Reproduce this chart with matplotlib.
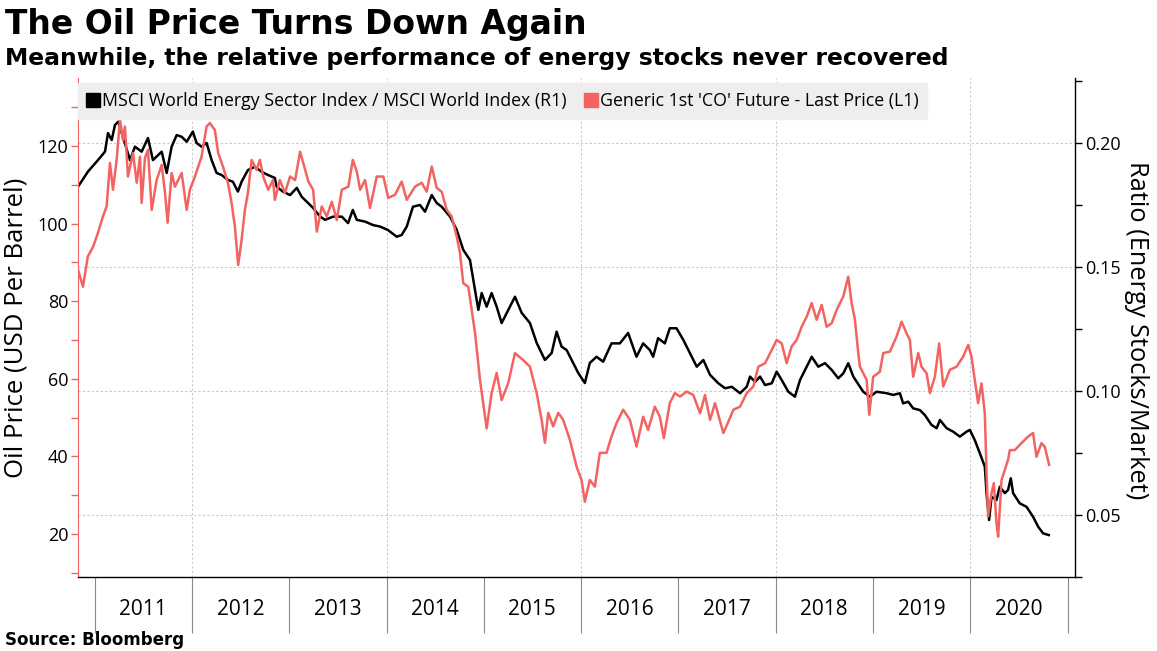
import matplotlib
matplotlib.use("Agg")
import matplotlib.pyplot as plt
import pandas as pd
from matplotlib.lines import Line2D
from matplotlib.ticker import MultipleLocator, FixedLocator, NullFormatter

# ---------------- data (decimal years) ----------------
ratio_t = [
    2010.83, 2010.93, 2011.035, 2011.107, 2011.138, 2011.176, 2011.21, 2011.244, 2011.364, 2011.415,
    2011.484, 2011.549, 2011.60, 2011.69, 2011.741, 2011.792, 2011.844, 2011.895, 2011.947, 2012.011,
    2012.049, 2012.10, 2012.152, 2012.204, 2012.255, 2012.306, 2012.371, 2012.422, 2012.474, 2012.512,
    2012.577, 2012.649, 2012.717, 2012.782, 2012.854, 2012.872, 2012.936, 2013.008, 2013.077, 2013.128,
    2013.193, 2013.245, 2013.317, 2013.368, 2013.45, 2013.54, 2013.604, 2013.653, 2013.694, 2013.779,
    2013.861, 2013.933, 2014.015, 2014.105, 2014.156, 2014.208, 2014.272, 2014.344, 2014.396, 2014.465,
    2014.516, 2014.567, 2014.653, 2014.722, 2014.789, 2014.858, 2014.892, 2014.944, 2014.978, 2015.03,
    2015.081, 2015.133, 2015.184, 2015.252, 2015.321, 2015.39, 2015.475, 2015.544, 2015.629, 2015.698,
    2015.749, 2015.80, 2015.852, 2015.92, 2015.971, 2016.04, 2016.091, 2016.16, 2016.228, 2016.314,
    2016.40, 2016.485, 2016.571, 2016.639, 2016.708, 2016.742, 2016.793, 2016.862, 2016.913, 2016.982,
    2017.05, 2017.119, 2017.188, 2017.256, 2017.325, 2017.41, 2017.479, 2017.548, 2017.633, 2017.702,
    2017.736, 2017.787, 2017.839, 2017.89, 2017.959, 2018.01, 2018.062, 2018.13, 2018.198, 2018.25,
    2018.319, 2018.37, 2018.438, 2018.507, 2018.576, 2018.643, 2018.695, 2018.746, 2018.798, 2018.866,
    2018.90, 2018.969, 2019.038, 2019.141, 2019.209, 2019.277, 2019.311, 2019.363, 2019.414, 2019.483,
    2019.534, 2019.603, 2019.655, 2019.689, 2019.758, 2019.825, 2019.894, 2019.963, 2019.997, 2020.048,
    2020.10, 2020.151, 2020.169, 2020.195, 2020.22, 2020.271, 2020.305, 2020.357, 2020.39, 2020.418,
    2020.442, 2020.51, 2020.58, 2020.647, 2020.699, 2020.75, 2020.809,
]
ratio_v = [
    0.1824, 0.1884, 0.1931, 0.1965, 0.2040, 0.2012, 0.2073, 0.2086, 0.1931, 0.1985,
    0.1965, 0.2020, 0.1931, 0.1965, 0.1879, 0.1985, 0.2032, 0.2025, 0.2005, 0.2046,
    0.2000, 0.1985, 0.2000, 0.1931, 0.1879, 0.1871, 0.1851, 0.1844, 0.1804, 0.1844,
    0.1891, 0.1904, 0.1884, 0.1871, 0.1859, 0.1824, 0.1804, 0.1790, 0.1819, 0.1783,
    0.1758, 0.1738, 0.1703, 0.1690, 0.1703, 0.1703, 0.1677, 0.1730, 0.1690, 0.1683,
    0.1669, 0.1663, 0.1649, 0.1622, 0.1629, 0.1663, 0.1743, 0.1750, 0.1723, 0.1790,
    0.1758, 0.1743, 0.1703, 0.1649, 0.1569, 0.1528, 0.1448, 0.1327, 0.1395, 0.1340,
    0.1395, 0.1340, 0.1274, 0.1327, 0.1380, 0.1315, 0.1274, 0.1194, 0.1125, 0.1153,
    0.1239, 0.1179, 0.1165, 0.1112, 0.1073, 0.1032, 0.1113, 0.1138, 0.1118, 0.1192,
    0.1192, 0.1234, 0.1138, 0.1192, 0.1165, 0.1138, 0.1213, 0.1192, 0.1253, 0.1253,
    0.1206, 0.1152, 0.1098, 0.1125, 0.1065, 0.1031, 0.1011, 0.1017, 0.0991, 0.1017,
    0.1058, 0.1037, 0.1058, 0.1024, 0.1031, 0.1078, 0.1044, 0.0997, 0.0977, 0.1044,
    0.1098, 0.1138, 0.1098, 0.1112, 0.1085, 0.1051, 0.1071, 0.1112, 0.1058, 0.1017,
    0.0997, 0.0977, 0.0997, 0.0991, 0.0984, 0.0991, 0.0950, 0.0957, 0.0930, 0.0923,
    0.0903, 0.0863, 0.0850, 0.0883, 0.0850, 0.0836, 0.0816, 0.0836, 0.0843, 0.0802,
    0.0749, 0.0695, 0.0587, 0.0480, 0.0574, 0.0560, 0.0614, 0.0588, 0.0601, 0.0648,
    0.0588, 0.0547, 0.0533, 0.0493, 0.0453, 0.0426, 0.0419,
]

oil_t = [
    2010.83, 2010.88, 2010.93, 2010.984, 2011.035, 2011.086, 2011.124, 2011.158, 2011.189, 2011.227,
    2011.261, 2011.292, 2011.312, 2011.343, 2011.395, 2011.433, 2011.467, 2011.484, 2011.518, 2011.549,
    2011.587, 2011.638, 2011.69, 2011.724, 2011.751, 2011.792, 2011.826, 2011.895, 2011.947, 2011.98,
    2012.032, 2012.10, 2012.152, 2012.186, 2012.237, 2012.271, 2012.32, 2012.371, 2012.409, 2012.443,
    2012.477, 2012.512, 2012.546, 2012.577, 2012.615, 2012.666, 2012.70, 2012.734, 2012.785, 2012.834,
    2012.854, 2012.905, 2012.957, 2013.008, 2013.06, 2013.111, 2013.145, 2013.196, 2013.245, 2013.283,
    2013.334, 2013.385, 2013.437, 2013.488, 2013.54, 2013.607, 2013.653, 2013.694, 2013.728, 2013.779,
    2013.83, 2013.899, 2013.967, 2014.018, 2014.087, 2014.156, 2014.208, 2014.293, 2014.362, 2014.413,
    2014.465, 2014.516, 2014.567, 2014.619, 2014.67, 2014.722, 2014.755, 2014.789, 2014.841, 2014.876,
    2014.91, 2014.961, 2015.03, 2015.081, 2015.133, 2015.184, 2015.252, 2015.321, 2015.406, 2015.475,
    2015.544, 2015.595, 2015.629, 2015.663, 2015.714, 2015.766, 2015.817, 2015.886, 2015.955, 2016.006,
    2016.04, 2016.091, 2016.143, 2016.194, 2016.263, 2016.314, 2016.366, 2016.434, 2016.503, 2016.571,
    2016.639, 2016.69, 2016.759, 2016.811, 2016.852, 2016.913, 2016.965, 2017.016, 2017.085, 2017.153,
    2017.222, 2017.273, 2017.325, 2017.376, 2017.462, 2017.513, 2017.564, 2017.633, 2017.702, 2017.77,
    2017.821, 2017.89, 2017.959, 2018.01, 2018.062, 2018.113, 2018.164, 2018.216, 2018.267, 2018.319,
    2018.37, 2018.421, 2018.473, 2018.524, 2018.576, 2018.627, 2018.695, 2018.746, 2018.781, 2018.815,
    2018.849, 2018.866, 2018.90, 2018.935, 2018.962, 2019.003, 2019.072, 2019.106, 2019.175, 2019.244,
    2019.295, 2019.346, 2019.38, 2019.414, 2019.466, 2019.50, 2019.552, 2019.586, 2019.637, 2019.681,
    2019.723, 2019.791, 2019.86, 2019.928, 2019.98, 2020.014, 2020.048, 2020.082, 2020.117, 2020.151,
    2020.169, 2020.185, 2020.22, 2020.244, 2020.271, 2020.288, 2020.323, 2020.357, 2020.39, 2020.408,
    2020.459, 2020.528, 2020.596, 2020.647, 2020.682, 2020.733, 2020.767, 2020.812,
]
oil_v = [
    88.0, 83.7, 91.5, 94.0, 97.6, 101.8, 104.4, 115.6, 108.7, 116.4,
    126.7, 121.5, 125.0, 112.1, 118.2, 110.5, 117.2, 105.3, 116.9, 119.0,
    103.5, 111.2, 115.1, 107.9, 100.2, 113.0, 109.5, 113.0, 103.5, 108.7,
    112.1, 117.2, 125.0, 125.9, 124.1, 118.2, 114.7, 110.5, 105.3, 99.2,
    89.3, 95.8, 103.5, 107.9, 116.4, 113.8, 116.4, 112.1, 108.7, 111.2,
    106.1, 111.2, 107.9, 112.1, 111.2, 118.5, 115.5, 110.8, 108.7, 97.9,
    104.4, 101.8, 105.6, 100.9, 108.7, 109.5, 116.4, 113.4, 108.7, 111.2,
    104.0, 112.1, 112.1, 106.6, 107.4, 110.8, 106.1, 109.5, 110.5, 108.2,
    114.7, 109.2, 108.2, 103.5, 101.8, 96.6, 92.4, 84.6, 83.7, 77.7,
    71.8, 59.7, 47.2, 56.3, 61.5, 54.5, 58.9, 66.6, 64.8, 63.1,
    56.3, 49.4, 43.5, 51.2, 47.7, 51.2, 49.4, 44.2, 37.3, 33.9,
    28.3, 33.9, 32.2, 40.9, 40.9, 45.1, 48.6, 52.0, 49.4, 42.5,
    50.2, 46.8, 52.8, 50.2, 44.7, 53.7, 56.3, 55.4, 56.7, 55.8,
    51.1, 55.8, 49.4, 53.7, 46.0, 48.9, 52.0, 52.8, 56.3, 58.0,
    63.1, 64.0, 67.4, 70.0, 69.1, 64.0, 68.3, 70.0, 73.4, 76.0,
    79.5, 75.2, 79.0, 73.4, 74.3, 77.7, 81.2, 86.3, 79.5, 75.2,
    66.6, 63.1, 61.4, 59.7, 50.7, 60.5, 61.8, 66.6, 67.0, 70.9,
    74.7, 71.7, 70.0, 60.5, 66.6, 63.1, 61.4, 56.3, 60.5, 69.1,
    58.0, 62.3, 63.1, 65.7, 68.7, 65.7, 59.7, 53.7, 58.8, 51.1,
    35.6, 24.5, 30.5, 33.1, 22.8, 19.3, 33.9, 36.5, 39.1, 41.6,
    41.6, 43.4, 45.1, 46.0, 39.9, 43.4, 42.5, 37.8,
]

years = [2011, 2012, 2013, 2014, 2015, 2016, 2017, 2018, 2019, 2020]
oil_ticks = [20, 40, 60, 80, 100, 120]
ratio_ticks = [0.05, 0.10, 0.15, 0.20]

title = "The Oil Price Turns Down Again"
subtitle = "Meanwhile, the relative performance of energy stocks never recovered"
source = "Source: Bloomberg"
label_ratio = "MSCI World Energy Sector Index / MSCI World Index (R1)"
label_oil = "Generic 1st 'CO' Future - Last Price (L1)"


def to_date(v):
    y = int(v)
    return pd.Timestamp(y, 1, 1) + pd.to_timedelta((v - y) * 365.25, unit="D")


ratio_d = [to_date(v) for v in ratio_t]
oil_d = [to_date(v) for v in oil_t]

RED = "#f26462"
TICKFONT = "Open Sans"

fig = plt.figure(figsize=(11.57, 6.51), dpi=100)
ax = fig.add_axes([78 / 1157, 1 - 577 / 651, (1075 - 78) / 1157, (577 - 78) / 651])
ax2 = ax.twinx()

# lines
ax2.plot(ratio_d, ratio_v, color="black", lw=1.8, zorder=3)
ax.plot(oil_d, oil_v, color=RED, lw=1.8, zorder=3)
ax.set_zorder(ax2.get_zorder() + 1)
ax.patch.set_visible(False)

# limits
ax.set_xlim(to_date(2010.829), to_date(2021.076))
ax.set_ylim(8.9, 137.5)
ax2.set_ylim(0.025, 0.2262)

# grids
ax2.set_yticks(ratio_ticks)
ax2.yaxis.set_minor_locator(MultipleLocator(0.025))
ax2.yaxis.grid(True, which="major", linestyle=(0, (2, 2)), color="#c9c9c9", lw=0.8)
for y in years:
    if y % 2 == 0:
        ax2.axvline(pd.Timestamp(y, 1, 1), linestyle=(0, (2, 2)), color="#c9c9c9", lw=0.8, zorder=0)

# spines
for a in (ax, ax2):
    a.spines["top"].set_visible(False)
ax.spines["right"].set_visible(False)
ax2.spines["left"].set_visible(False)
ax.spines["left"].set_color(RED)
ax.spines["left"].set_linewidth(0.8)
ax2.spines["right"].set_color("black")
ax2.spines["right"].set_linewidth(1.0)
ax.spines["bottom"].set_color("black")
ax.spines["bottom"].set_linewidth(1.0)
ax2.spines["bottom"].set_visible(False)

# left axis ticks
ax.set_yticks(oil_ticks)
ax.yaxis.set_minor_locator(FixedLocator([10, 30, 50, 70, 90, 110, 130]))
ax.tick_params(axis="y", which="both", colors=RED, length=5, width=1, labelcolor="black",
               labelsize=13, pad=2)
for lab in ax.get_yticklabels():
    lab.set_fontfamily(TICKFONT)

# right axis ticks
ax2.set_yticklabels(["0.05", "0.10", "0.15", "0.20"])
ax2.tick_params(axis="y", which="both", colors="black", length=5, width=1, labelsize=13, pad=2)
for lab in ax2.get_yticklabels():
    lab.set_fontfamily(TICKFONT)

# x axis: long separators at year boundaries, labels mid-year
bounds = [pd.Timestamp(y, 1, 1) for y in years + [years[-1] + 1]]
mids = [pd.Timestamp(y, 7, 2) for y in years]
ax.set_xticks(bounds)
ax.xaxis.set_major_formatter(NullFormatter())
ax.set_xticks(mids, minor=True)
ax.set_xticklabels([str(y) for y in years], minor=True)
ax.tick_params(axis="x", which="major", length=40, width=0.8, color="#8a8a8a")
ax.tick_params(axis="x", which="minor", length=0, labelsize=15, pad=16)
for lab in ax.get_xticklabels(minor=True):
    lab.set_fontfamily(TICKFONT)
ax2.tick_params(axis="x", which="both", length=0)

# legend
handles = [
    Line2D([], [], marker="s", linestyle="none", color="black", markersize=10, label=label_ratio),
    Line2D([], [], marker="s", linestyle="none", color=RED, markersize=10, label=label_oil),
]
leg = ax.legend(handles=handles, loc="upper left", bbox_to_anchor=(0, 0.99), ncol=2,
                frameon=True, fancybox=False, facecolor="#eeeeee", edgecolor="#eeeeee",
                framealpha=1, borderaxespad=0, handlelength=0.7, handletextpad=0.15,
                columnspacing=1.0, borderpad=0.5, prop={"family": TICKFONT, "size": 12.8})

# titles and labels
fig.text(5 / 1157, 1 - 34 / 651, title, fontsize=23.8, fontweight="bold", va="baseline", ha="left")
fig.text(5 / 1157, 1 - 65 / 651, subtitle, fontsize=16.9, fontweight="bold", va="baseline", ha="left")
fig.text(5 / 1157, 1 - 645 / 651, source, fontsize=12, fontweight="bold", va="baseline", ha="left")
fig.text(16 / 1157, 1 - 328 / 651, "Oil Price (USD Per Barrel)", rotation=90, ha="center",
         va="center", fontsize=18.5, family=TICKFONT)
fig.text(1136 / 1157, 1 - 330 / 651, "Ratio (Energy Stocks/Market)", rotation=270, ha="center",
         va="center", fontsize=18.3, family=TICKFONT)

fig.savefig("out.png", dpi=100)
